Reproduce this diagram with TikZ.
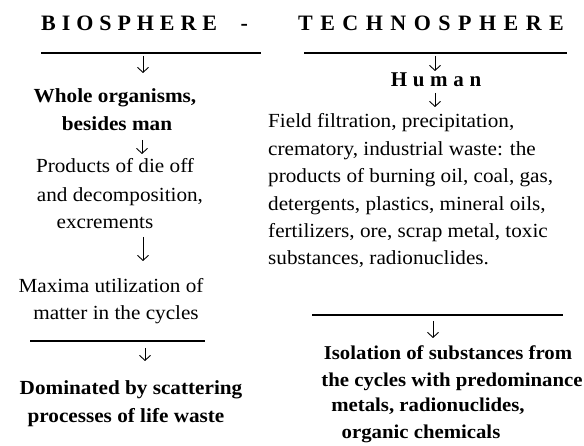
\documentclass[tikz,border=0pt]{standalone}
\usepackage{fontspec}
\setmainfont{Liberation Serif}[FakeStretch=1.06]
\newfontfamily\spacedfont{Liberation Serif}[LetterSpace=27]
\newfontfamily\widespacedfont{Liberation Serif}[LetterSpace=34]
\usetikzlibrary{arrows.meta}
\begin{document}
\begin{tikzpicture}[x=1pt,y=-1pt,
  txt/.style={font=\fontsize{20}{24}\selectfont, inner sep=0pt, anchor=base},
  btxt/.style={font=\fontsize{20}{24}\selectfont\bfseries, inner sep=0pt, anchor=base},
  rbtxt/.style={font=\fontsize{19.6}{24}\selectfont\bfseries, inner sep=0pt, anchor=base},
  ttl/.style={font={\spacedfont\bfseries\fontsize{22}{26}\selectfont}, inner sep=0pt, anchor=base west},
  rule/.style={line width=1.4pt},
  darrow/.style={line width=0.9pt, -{Straight Barb[length=5pt,width=11pt]}}]
\useasboundingbox[fill=white] (0,0) rectangle (584,446);

% titles
\node[ttl] (bio) at (41,31) {BIOSPHERE\hspace{12pt} -};
\node[ttl, font={\widespacedfont\bfseries\fontsize{22}{26}\selectfont}] (tech) at (298,31) {TECHNOSPHERE};

% top rules
\coordinate (l1a) at (41,53);  \coordinate (l1b) at (261,53);
\coordinate (l2a) at (304,53); \coordinate (l2b) at (567,53);
\draw[rule] (l1a) -- (l1b);
\draw[rule] (l2a) -- (l2b);

% left column
\coordinate (a1s) at (143,56); \coordinate (a1e) at (143,73);
\draw[darrow] (a1s) -- (a1e);
\node[btxt] (whole) at (115,103) {Whole organisms,};
\node[btxt] (besides) at (117,131) {besides man};
\coordinate (a2s) at (142,140); \coordinate (a2e) at (142,154);
\draw[darrow] (a2s) -- (a2e);
\node[txt] (prod1) at (115,173) {Products of die off};
\node[txt] (prod2) at (120,202) {and decomposition,};
\node[txt] (prod3) at (105,229) {excrements};
\coordinate (a3s) at (143,237); \coordinate (a3e) at (143,261);
\draw[darrow] (a3s) -- (a3e);
\node[txt] (max1) at (111,293) {Maxima utilization of};
\node[txt] (max2) at (116,320) {matter in the cycles};
\coordinate (l3a) at (30,341); \coordinate (l3b) at (205,341);
\draw[rule] (l3a) -- (l3b);
\coordinate (a4s) at (145,348); \coordinate (a4e) at (145,361);
\draw[darrow] (a4s) -- (a4e);
\node[btxt] (dom1) at (131,395) {Dominated by scattering};
\node[btxt] (dom2) at (126,422) {processes of life waste};

% right column
\coordinate (b1s) at (435,56); \coordinate (b1e) at (435,71);
\draw[darrow] (b1s) -- (b1e);
\node[ttl, anchor=base, font={\spacedfont\bfseries\fontsize{21}{24}\selectfont}] (human) at (436,87) {Human};
\coordinate (b2s) at (435,93); \coordinate (b2e) at (435,107);
\draw[darrow] (b2s) -- (b2e);
\node[txt, anchor=base west] (f1) at (268,128) {Field filtration, precipitation,};
\node[txt, anchor=base west] (f2) at (268,155.4) {crematory, industrial waste: the};
\node[txt, anchor=base west] (f3) at (268,182.8) {products of burning oil, coal, gas,};
\node[txt, anchor=base west] (f4) at (268,210.2) {detergents, plastics, mineral oils,};
\node[txt, anchor=base west] (f5) at (268,237.6) {fertilizers, ore, scrap metal, toxic};
\node[txt, anchor=base west] (f6) at (268,265) {substances, radionuclides.};
\coordinate (l4a) at (312,315); \coordinate (l4b) at (563,315);
\draw[rule] (l4a) -- (l4b);
\coordinate (b3s) at (433,321); \coordinate (b3e) at (433,338);
\draw[darrow] (b3s) -- (b3e);
\node[rbtxt] (iso1) at (448,360) {Isolation of substances from};
\node[rbtxt] (iso2) at (452,387) {the cycles with predominance};
\node[rbtxt] (iso3) at (428,412) {metals, radionuclides,};
\node[rbtxt] (iso4) at (421,438) {organic chemicals};
\end{tikzpicture}
\end{document}
